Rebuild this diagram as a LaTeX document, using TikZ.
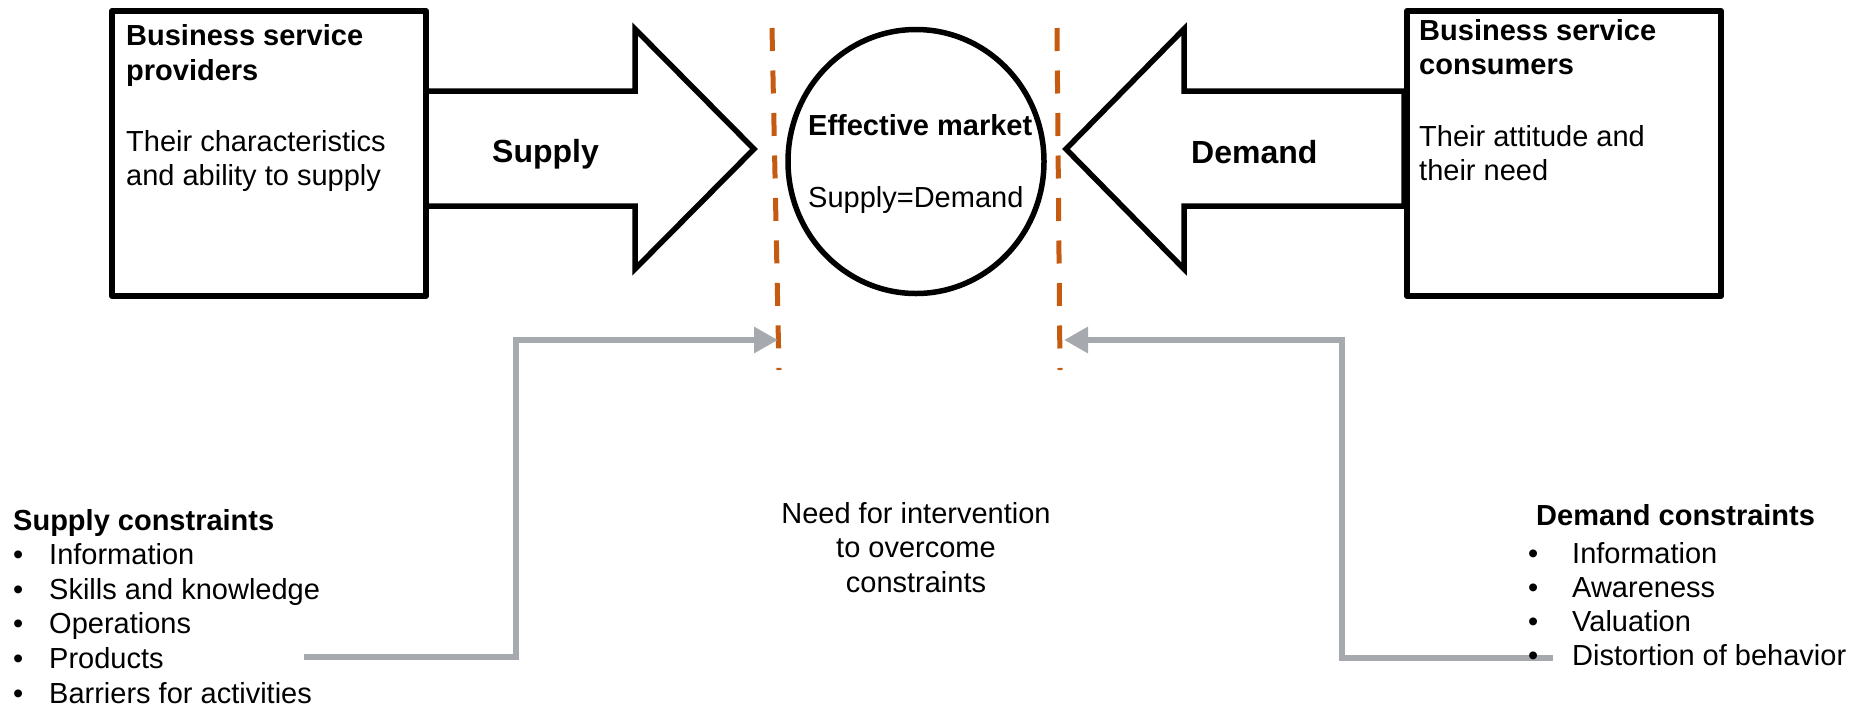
\documentclass[tikz,border=0pt]{standalone}
\usepackage{fontspec}
\setmainfont{Liberation Sans}
\usetikzlibrary{arrows.meta,shapes.geometric}
\definecolor{rust}{RGB}{197,90,17}
\definecolor{steel}{RGB}{166,169,173}
\definecolor{shade}{RGB}{205,207,210}

\begin{document}
\begin{tikzpicture}[x=1pt,y=-1pt,
  txt/.style={inner sep=0pt, anchor=base west, font=\fontsize{29}{34.5}\selectfont},
  bold/.style={txt, font=\fontsize{29}{34.5}\selectfont\bfseries},
  biglabel/.style={txt, font=\fontsize{32}{38}\selectfont\bfseries},
  centred/.style={inner sep=0pt, anchor=base, font=\fontsize{29}{34.5}\selectfont},
  party/.style={draw, line width=6pt, line join=round, fill=white,
    minimum width=314pt, minimum height=285pt, inner sep=0pt, anchor=north west},
  blockarrow/.style={draw, line width=5.5pt, fill=white, line join=miter},
  market/.style={draw, ellipse, line width=5.5pt, fill=white,
    minimum width=256pt, minimum height=264pt, inner sep=0pt},
  boundary/.style={draw=rust, line width=5pt, dash pattern=on 23pt off 19.5pt},
  conn/.style={draw=steel, line width=6pt, line join=miter,
    -{Triangle[length=24pt,width=25pt]}},
  connshade/.style={draw=shade, line width=6pt, line join=miter, opacity=0.6}
]
% canvas
\fill[white] (0,0) rectangle (1868,710);
\useasboundingbox (0,0) rectangle (1868,710);

% block arrows (drawn first, boxes cover their back ends)
\draw[blockarrow] (423,91) -- (635,91) -- (635,29) -- (754,149)
  -- (635,269) -- (635,206) -- (423,206) -- cycle;
\draw[blockarrow] (1404,91) -- (1184,91) -- (1184,29) -- (1066,149)
  -- (1184,269) -- (1184,206) -- (1404,206) -- cycle;
\node[biglabel] (supply) at (492,162) {Supply};
\node[biglabel] (demand) at (1191,163) {Demand};

% provider and consumer boxes
\node[party] (prov) at (109,8) {};
\node[party] (cons) at (1404,8) {};
\node[bold] (provT1) at (126,45) {Business service};
\node[bold] (provT2) at (126,80) {providers};
\node[txt] (provB1) at (126,151) {Their characteristics};
\node[txt] (provB2) at (126,185) {and ability to supply};
\node[bold] (consT1) at (1419,40) {Business service};
\node[bold] (consT2) at (1419,74) {consumers};
\node[txt] (consB1) at (1419,146) {Their attitude and};
\node[txt] (consB2) at (1419,180) {their need};

% market
\node[market] (mkt) at (916,161.5) {};
\node[bold] (mktT) at (808,135) {Effective market};
\node[txt] (mktB) at (808,207) {Supply=Demand};

% market boundaries
\coordinate (bLtop) at (772,28);
\coordinate (bLbot) at (779,370);
\coordinate (bRtop) at (1057,28);
\coordinate (bRbot) at (1060,370);
\draw[boundary] (bLtop) -- (bLbot);
\draw[boundary] (bRtop) -- (bRbot);

% intervention connectors
\coordinate (sStart) at (304,657);
\coordinate (sKnee) at (516,340);
\coordinate (sTip) at (778,340);
\coordinate (dStart) at (1553,658);
\coordinate (dKnee) at (1342,340);
\coordinate (dTip) at (1064,340);
\begin{scope}[shift={(2,3)}]
  \draw[connshade] (sStart) -| (sKnee) -- ([xshift=-24pt]sTip);
  \draw[connshade] (dStart) -| (dKnee) -- ([xshift=24pt]dTip);
\end{scope}
\draw[conn] (sStart) -| (sKnee) -- (sTip);
\draw[conn] (dStart) -| (dKnee) -- (dTip);

% centre note
\node[centred] (need1) at (916,523) {Need for intervention};
\node[centred] (need2) at (916,557.5) {to overcome};
\node[centred] (need3) at (916,592) {constraints};

% supply constraints
\node[bold] (supT) at (13,530) {Supply constraints};
\foreach \t [count=\i] in {Information, Skills and knowledge, Operations, Products, Barriers for activities}{
  \node[txt] (supB\i) at (13,{530+34.6*\i}) {•};
  \node[txt] (supI\i) at (49,{530+34.6*\i}) {\t};
}

% demand constraints
\node[bold] (demT) at (1536,525) {Demand constraints};
\foreach \t [count=\i] in {Information, Awareness, Valuation, Distortion of behavior}{
  \node[txt] (demB\i) at (1528,{529.5+33.9*\i}) {•};
  \node[txt] (demI\i) at (1572,{529.5+33.9*\i}) {\t};
}
\end{tikzpicture}
\end{document}
